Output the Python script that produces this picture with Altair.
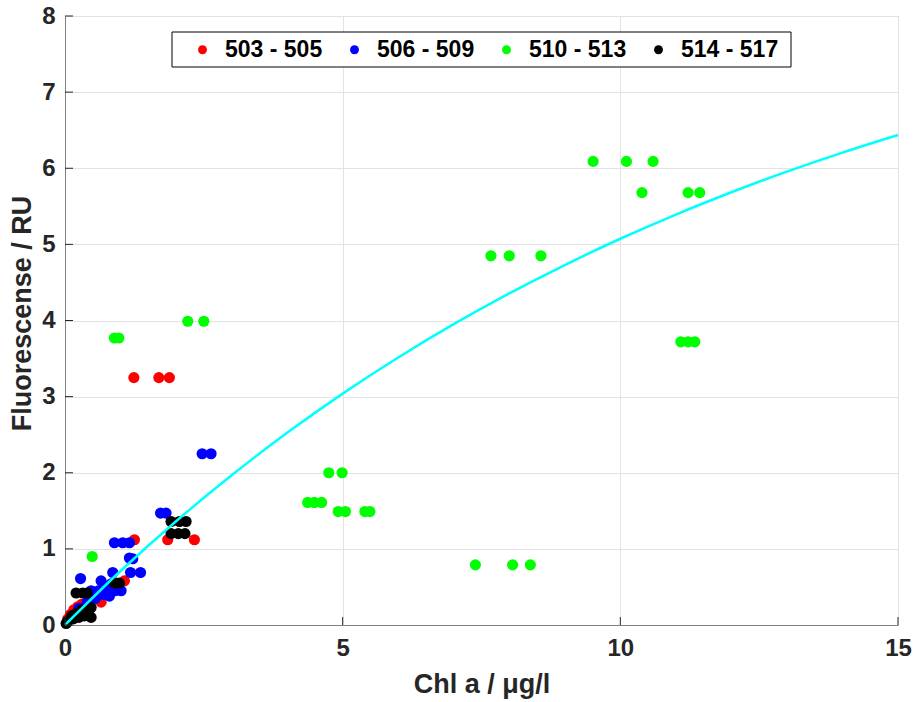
import altair as alt
import pandas as pd

groups = ["503 - 505", "506 - 509", "510 - 513", "514 - 517"]
colors = ["#ff0000", "#0000ff", "#00ff00", "#000000"]

red_x = [1.24, 1.69, 1.88, 1.25, 1.85, 2.33, 1.07, 0.92, 0.62, 0.65, 0.30, 0.23, 0.16, 0.10, 0.05]
red_y = [3.25, 3.25, 3.25, 1.12, 1.12, 1.12, 0.58, 0.55, 0.42, 0.30, 0.27, 0.24, 0.20, 0.14, 0.08]

blue_x = [2.47, 2.63, 1.72, 1.82, 0.89, 1.04, 1.16, 1.16, 1.22, 0.86, 1.18, 1.36, 0.28,
          0.65, 0.83, 0.47, 0.60, 0.75, 0.90, 1.01, 0.70, 0.80, 0.55, 0.40, 0.25, 0.15]
blue_y = [2.25, 2.25, 1.47, 1.47, 1.08, 1.08, 1.08, 0.88, 0.87, 0.69, 0.69, 0.69, 0.61,
          0.58, 0.54, 0.45, 0.45, 0.47, 0.45, 0.45, 0.40, 0.38, 0.35, 0.30, 0.22, 0.12]

green_x = [9.51, 10.11, 10.59, 10.39, 11.22, 11.43, 7.67, 8.00, 8.57, 11.09, 11.22, 11.34,
           2.21, 2.50, 0.89, 0.97, 4.75, 4.99, 4.37, 4.49, 4.62, 4.92, 5.05, 5.40, 5.49,
           7.39, 8.06, 8.38, 0.49]
green_y = [6.09, 6.09, 6.09, 5.68, 5.68, 5.68, 4.85, 4.85, 4.85, 3.72, 3.72, 3.72,
           3.99, 3.99, 3.77, 3.77, 2.00, 2.00, 1.61, 1.61, 1.61, 1.49, 1.49, 1.49, 1.49,
           0.79, 0.79, 0.79, 0.90]

black_x = [1.91, 2.06, 2.18, 1.91, 2.04, 2.16, 0.89, 0.98, 0.20, 0.32, 0.40, 0.47, 0.42,
           0.47, 0.05, 0.12, 0.20, 0.30, 0.35, 0.15, 0.25, 0.02]
black_y = [1.36, 1.36, 1.36, 1.20, 1.20, 1.20, 0.55, 0.55, 0.42, 0.42, 0.42, 0.23, 0.18,
           0.10, 0.05, 0.12, 0.15, 0.20, 0.12, 0.08, 0.10, 0.02]

curve_x = [0, 1, 2, 3, 4, 5, 6, 7, 8, 9, 10, 11, 12, 13, 14, 15]
curve_y = [0.0, 0.709, 1.363, 1.967, 2.524, 3.039, 3.514, 3.952, 4.356, 4.729,
           5.074, 5.392, 5.685, 5.956, 6.206, 6.437]

x_ticks = [0, 5, 10, 15]
y_ticks = [0, 1, 2, 3, 4, 5, 6, 7, 8]

rows = []
for g, xs, ys in zip(groups, [red_x, blue_x, green_x, black_x], [red_y, blue_y, green_y, black_y]):
    for a, b in zip(xs, ys):
        rows.append({"chl": a, "fl": b, "group": g})
df = pd.DataFrame(rows)
curve_df = pd.DataFrame({"chl": curve_x, "fl": curve_y})
xt_df = pd.DataFrame({"chl": x_ticks})
yt_df = pd.DataFrame({"fl": y_ticks})

FONT = "Liberation Sans"
xscale = alt.Scale(domain=[0, 15], nice=False, zero=False)
yscale = alt.Scale(domain=[0, 8], nice=False, zero=False)

x_axis = alt.Axis(values=x_ticks, title="Chl a / μg/l", format="d", ticks=False, tickSize=0,
                  labelPadding=11, labelFlush=False, labelOverlap=False,
                  titleY=67, titleBaseline="alphabetic")
y_axis = alt.Axis(values=y_ticks, title="Fluorescense / RU", format="d", ticks=False, tickSize=0,
                  labelPadding=10, labelFlush=False, labelOverlap=False,
                  titleX=-35, titleY=297, titleBaseline="alphabetic",
                  titleAngle=-90, titleAlign="center")

X = alt.X("chl:Q", scale=xscale, axis=x_axis)
Y = alt.Y("fl:Q", scale=yscale, axis=y_axis)

box = alt.Chart(pd.DataFrame({"k": [0]})).mark_rect(
    fill="white", stroke="black", strokeWidth=1
).encode(x=alt.value(107), x2=alt.value(726), y=alt.value(16), y2=alt.value(51))

points = alt.Chart(df).mark_circle(size=125, opacity=1).encode(
    x=X,
    y=Y,
    color=alt.Color(
        "group:N",
        scale=alt.Scale(domain=groups, range=colors),
        legend=alt.Legend(
            orient="none", legendX=126, legendY=22, direction="horizontal", columns=4,
            title=None, symbolType="circle", symbolSize=80, symbolStrokeWidth=0,
            labelFont=FONT, labelFontSize=23, labelFontWeight="bold", labelColor="black",
            labelOffset=11, columnPadding=20, padding=0,
        ),
    ),
)

curve = alt.Chart(curve_df).mark_line(color="#00ffff", strokeWidth=2.5, interpolate="monotone").encode(
    x=X, y=Y
)

yticks = alt.Chart(yt_df).mark_rule(color="#262626", strokeWidth=1).encode(
    y=Y, x=alt.value(0), x2=alt.value(8)
)
xticks = alt.Chart(xt_df).mark_rule(color="#262626", strokeWidth=1).encode(
    x=X, y=alt.value(609), y2=alt.value(601)
)

chart = alt.layer(points, curve, yticks, xticks, box).properties(
    width=833, height=609,
    autosize=alt.AutoSizeParams(type="none"),
    padding={"left": 65, "top": 16, "right": 16, "bottom": 77},
    background="white",
).configure_view(stroke="#808080", strokeWidth=1).configure_axis(
    labelFont=FONT, labelFontSize=24, labelFontWeight="bold", labelColor="#262626",
    titleFont=FONT, titleFontSize=27, titleFontWeight="bold", titleColor="#262626",
    domainColor="#808080", domainWidth=1, gridColor="#e3e3e3", gridWidth=1,
)

chart.save("out.html", embed_options={"renderer": "svg", "actions": False})
